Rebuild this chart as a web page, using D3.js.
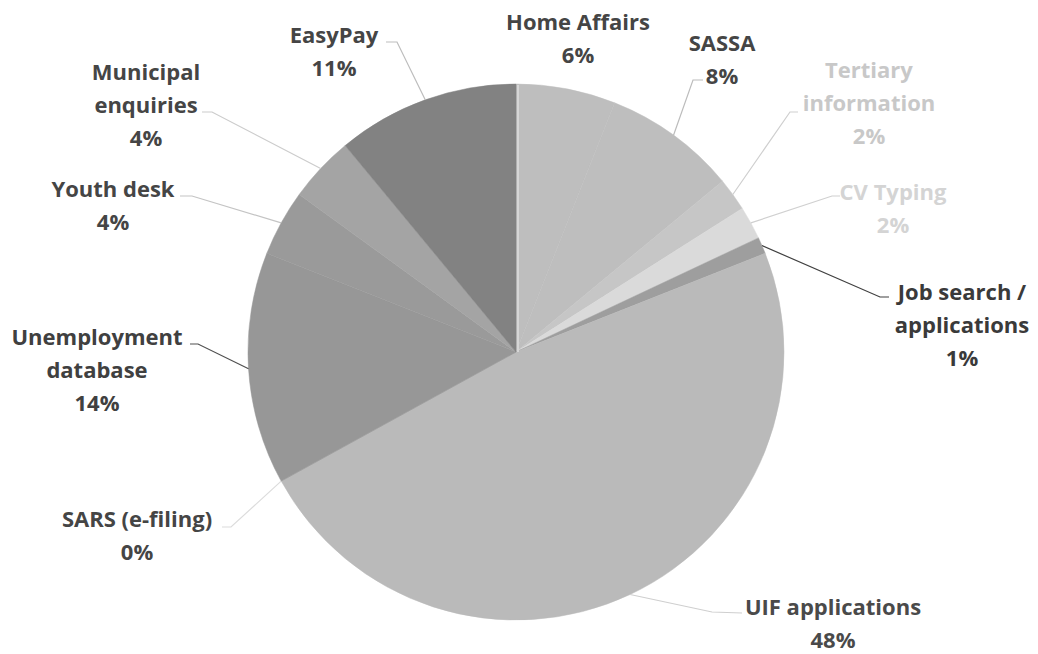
<!DOCTYPE html>
<html>
<head>
<meta charset="utf-8">
<script src="https://cdn.jsdelivr.net/npm/d3@7"></script>
<style>
  html, body { margin: 0; padding: 0; background: #ffffff; }
  #chart text { font-family: "Open Sans", "DejaVu Sans", sans-serif; font-weight: 700; }
</style>
</head>
<body>
<div id="chart"></div>
<script>
// Categories and shares (%), clockwise from 12 o'clock
const categories = [
    ["Home Affairs"],
    ["SASSA"],
    ["Tertiary", "information"],
    ["CV Typing"],
    ["Job search /", "applications"],
    ["UIF applications"],
    ["SARS (e-filing)"],
    ["Unemployment", "database"],
    ["Youth desk"],
    ["Municipal", "enquiries"],
    ["EasyPay"]
];
const shares = [6, 8, 2, 2, 1, 48, 0, 14, 4, 4, 11];

// Slice fills (grey scale, as in the scanned original)
const sliceColors = ["#bebebe", "#bebebe", "#c6c6c6", "#dadada", "#9e9e9e", "#bababa",
                     "#b0b0b0", "#979797", "#9a9a9a", "#a4a4a4", "#828282"];
const textColors = ["#454545", "#454545", "#c8c8c8", "#d4d4d4", "#3a3a3a", "#4a4a4a",
                    "#454545", "#404040", "#454545", "#454545", "#454545"];
const leaderColors = [null, "#bcbcbc", "#cfcfcf", "#d0d0d0", "#404040", "#cfcfcf",
                      "#dcdcdc", "#505050", "#c4c4c4", "#cccccc", "#bdbdbd"];

// Label placement: text centre x, first baseline y, leader elbow and end
const labelPos = [
    { x: 578, y: 30, elbow: null, end: null },
    { x: 722, y: 51, elbow: [693, 80], end: [703, 80] },
    { x: 869, y: 78, elbow: [790, 112], end: [798, 112] },
    { x: 893, y: 200, elbow: [832, 196], end: [840, 196] },
    { x: 962, y: 300, elbow: [880, 297], end: [889, 297] },
    { x: 833, y: 615, elbow: [712, 612], end: [742, 613] },
    { x: 137, y: 527, elbow: [231, 527], end: [222, 527] },
    { x: 97, y: 345, elbow: [198, 344], end: [190, 344] },
    { x: 113, y: 197, elbow: [192, 196], end: [180, 196] },
    { x: 146, y: 80, elbow: [212, 112], end: [202, 112] },
    { x: 334, y: 43, elbow: [397, 42], end: [386, 42] }
];

const width = 1038, height = 654;
const cx = 516, cy = 352, radius = 268;
const lineHeight = 33;

const data = categories.map((c, i) => ({ lines: c, value: shares[i], i: i }));

const svg = d3.select("#chart")
    .append("svg")
    .attr("width", width)
    .attr("height", height);

const g = svg.append("g")
    .attr("transform", `translate(${cx},${cy})`);

const pie = d3.pie()
    .sort(null)
    .value(d => d.value);

const arc = d3.arc()
    .innerRadius(0)
    .outerRadius(radius);

// arc used to find where each leader touches the rim
const rimArc = d3.arc()
    .innerRadius(radius)
    .outerRadius(radius);

const arcs = pie(data);

// Slices (stroke in the same grey so neighbours of equal tone merge)
g.selectAll(".slice")
    .data(arcs)
    .enter()
    .append("path")
    .attr("class", "slice")
    .attr("d", arc)
    .attr("fill", d => sliceColors[d.data.i])
    .attr("stroke", d => sliceColors[d.data.i])
    .attr("stroke-width", 0.5);

// faint light seam at 12 o'clock, as in the original
g.append("line")
    .attr("x1", 2).attr("y1", 0)
    .attr("x2", 2).attr("y2", -radius + 1)
    .attr("stroke", "#d6d6d6")
    .attr("stroke-width", 2);

// Leader lines
svg.append("g")
    .selectAll("polyline")
    .data(arcs.filter(d => labelPos[d.data.i].elbow))
    .enter()
    .append("polyline")
    .attr("fill", "none")
    .attr("stroke", d => leaderColors[d.data.i])
    .attr("stroke-width", 1.2)
    .attr("points", d => {
        const c = rimArc.centroid(d);
        const p = labelPos[d.data.i];
        return [[c[0] + cx, c[1] + cy], p.elbow, p.end].map(q => q.join(",")).join(" ");
    });

// Labels: category lines then percentage
const labels = svg.append("g")
    .selectAll("text")
    .data(arcs)
    .enter()
    .append("text")
    .attr("text-anchor", "middle")
    .attr("font-size", 22)
    .attr("fill", d => textColors[d.data.i]);

labels.each(function(d) {
    const p = labelPos[d.data.i];
    const rows = d.data.lines.concat([d.data.value + "%"]);
    d3.select(this).selectAll("tspan")
        .data(rows)
        .enter()
        .append("tspan")
        .attr("x", p.x)
        .attr("y", (r, k) => p.y + k * lineHeight)
        .text(r => r);
});
</script>
</body>
</html>
